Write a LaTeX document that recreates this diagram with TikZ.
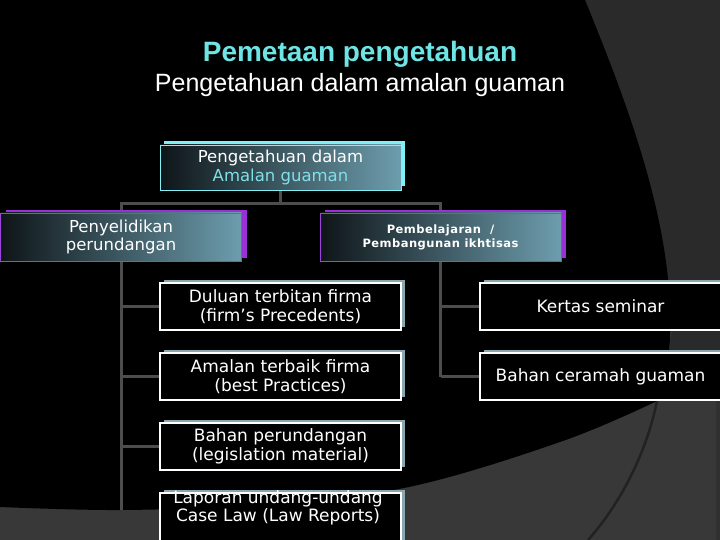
\documentclass[tikz,border=0pt]{standalone}
\usepackage{fontspec}
\setmainfont{DejaVu Sans}
\newfontfamily\titlefont{Liberation Sans}
\newfontfamily\spacedfont[LetterSpace=4]{DejaVu Sans}
\usetikzlibrary{shadows}
\pgfdeclarelayer{bglayer}
\pgfdeclarelayer{connlayer}
\pgfsetlayers{bglayer,connlayer,main}
\definecolor{bgright}{HTML}{2A2A2A}
\definecolor{bgbottom}{HTML}{383838}
\definecolor{bgstrip}{HTML}{303030}
\definecolor{darkline}{HTML}{222222}
\definecolor{conncol}{HTML}{4D4D4D}
\definecolor{titlecyan}{HTML}{6EE4E4}
\definecolor{cyanback}{HTML}{80F0F4}
\definecolor{cyantext}{HTML}{7FE0E8}
\definecolor{purpleback}{HTML}{9B30D8}
\definecolor{purpleline}{HTML}{A040E0}
\definecolor{leafback}{HTML}{8AA7B0}
\definecolor{gradL}{HTML}{0E1518}
\definecolor{gradR}{HTML}{6D9DAD}
\tikzset{
  conn/.style={draw=conncol, line width=3pt},
  gradbox/.style={minimum width=241pt, minimum height=47pt, inner sep=0pt,
    left color=gradL, right color=gradR, align=center, text=white,
    font=\fontsize{16.5}{18.5}\selectfont},
  topbox/.style={gradbox, minimum height=45pt, draw=cyanback, line width=0.8pt,
    copy shadow={shadow xshift=4pt, shadow yshift=4pt, fill=cyanback, draw=none}},
  midbox/.style={gradbox, minimum height=48pt, draw=purpleline, line width=0.8pt,
    copy shadow={shadow xshift=5pt, shadow yshift=3pt, fill=purpleback, draw=none}},
  leafbox/.style={minimum width=241pt, minimum height=47pt, inner sep=0pt,
    fill=black, draw=white, line width=1.2pt, align=center, text=white,
    font=\fontsize{17}{18.5}\selectfont,
    copy shadow={shadow xshift=4pt, shadow yshift=3pt, fill=leafback, draw=none}},
  plaintext/.style={align=center, text=white, inner sep=0pt,
    font=\fontsize{17}{18.5}\selectfont}
}
\begin{document}
\begin{tikzpicture}[x=1pt,y=-1pt]
\useasboundingbox (0,0) rectangle (720,540);
% background
\begin{pgfonlayer}{bglayer}
\fill[bgbottom] (0,0) rectangle (720,540);
\fill[bgstrip] (716,398) rectangle (720,540);
\fill[bgright] (560,0) -- (720,0) -- (720,378) -- (662,398) -- (672,330) -- cycle;
\draw[darkline, line width=2.5pt] (657,401) .. controls (645,460) and (615,510) .. (588,540);
\fill[black] (0,0) -- (585,0) .. controls (630,110) and (675,230) .. (670,340)
  -- (665,388) -- plot[smooth, tension=0.6] coordinates {(657,401) (560,442) (404,488) (250,505) (120,510) (0,507)}
  -- cycle;
\end{pgfonlayer}
% titles
\node[text=titlecyan, font=\titlefont\bfseries\fontsize{28}{30}\selectfont] (title) at (360,54) {Pemetaan pengetahuan};
\node[text=white, font=\titlefont\fontsize{25}{27}\selectfont] (subtitle) at (360,85) {Pengetahuan dalam amalan guaman};
% coordinates for connectors
\coordinate (bus) at (0,204);
\coordinate (lend) at (0,510);
% nodes
\node[topbox] (top) at (280.5,167.5) {Pengetahuan dalam\\\textcolor{cyantext}{Amalan guaman}};
\node[midbox] (pl) at (121,237) {Penyelidikan\\perundangan};
\node[midbox, font=\spacedfont\bfseries\fontsize{11.5}{14}\selectfont] (pr) at (440.5,237) {Pembelajaran~~/\\Pembangunan ikhtisas};
\node[leafbox] (l1) at (280.5,306.5) {Duluan terbitan firma\\(firm’s Precedents)};
\node[leafbox] (l2) at (280.5,376.5) {Amalan terbaik firma\\(best Practices)};
\node[leafbox] (l3) at (280.5,446.5) {Bahan perundangan\\(legislation material)};
\node[leafbox, minimum height=50pt] (l4) at (280.5,518) {};
\node[plaintext] (l4text) at (278,508) {Laporan undang-undang\\Case Law (Law Reports)};
\node[leafbox] (r1) at (600.5,306.5) {Kertas seminar};
\node[leafbox] (r2) at (600.5,376.5) {Bahan ceramah guaman};
% connectors (behind boxes)
\begin{pgfonlayer}{connlayer}
\draw[conn] (top.south) -- (top.south |- bus);
\draw[conn] (pl.north) -- (pl.north |- bus) -- (pr.north |- bus) -- (pr.north);
\draw[conn] (pl.south) -- (pl.south |- lend);
\draw[conn] (pl.south |- l1.west) -- (l1.west);
\draw[conn] (pl.south |- l2.west) -- (l2.west);
\draw[conn] (pl.south |- l3.west) -- (l3.west);
\draw[conn] (pr.south) -- (pr.south |- r2.west);
\draw[conn] (pr.south |- r1.west) -- (r1.west);
\draw[conn] (pr.south |- r2.west) -- (r2.west);
\end{pgfonlayer}
\end{tikzpicture}
\end{document}
